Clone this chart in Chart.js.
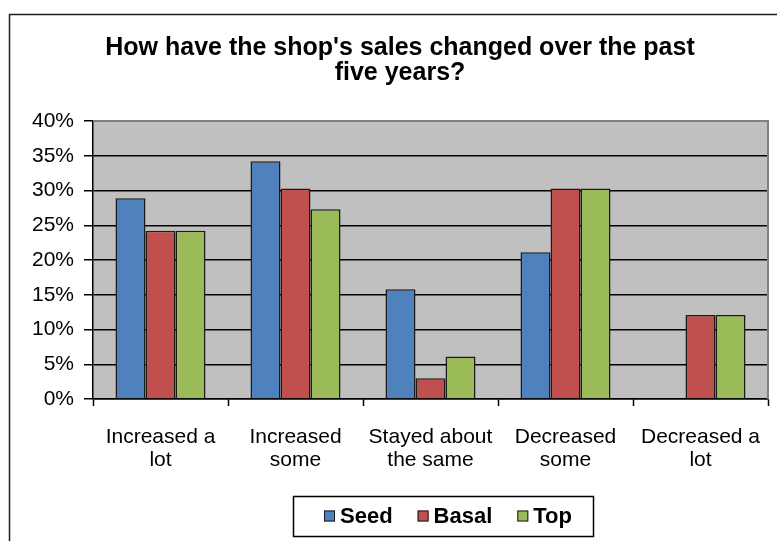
<!DOCTYPE html>
<html>
<head>
<meta charset="utf-8">
<script src="https://cdn.jsdelivr.net/npm/chart.js@4/dist/chart.umd.min.js"></script>
<style>
  html, body { margin: 0; padding: 0; background: #ffffff; }
  #wrap { width: 777px; height: 541px; }
</style>
</head>
<body>
<div id="wrap"><canvas id="c" width="777" height="541"></canvas></div>
<script>
// Survey answers: share of respondents per answer, in percent
const categories = [
  ['Increased a', 'lot'],
  ['Increased', 'some'],
  ['Stayed about', 'the same'],
  ['Decreased', 'some'],
  ['Decreased a', 'lot']
];
const seriesNames = ['Seed', 'Basal', 'Top'];
const seedValues  = [28.9, 34.2, 15.8, 21.1, 0];
const basalValues = [24.2, 30.3, 3.0, 30.3, 12.1];
const topValues   = [24.2, 27.3, 6.1, 30.3, 12.1];
const seriesColors = ['#4F81BD', '#C0504D', '#9BBB59'];
const titleLines = ["How have the shop's sales changed over the past", 'five years?'];

const FONT = "'Liberation Sans', Arial, sans-serif";

// Grey plot background, grey top/right plot border, outer frame and boxed legend
const decorations = {
  id: 'decorations',
  afterLayout(chart) {
    // nudge the title block so its lines are centred where the frame is centred
    if (chart.titleBlock) {
      chart.titleBlock.left += 16;
      chart.titleBlock.right += 16;
    }
  },
  beforeDraw(chart) {
    const ctx = chart.ctx;
    const a = chart.chartArea;
    ctx.save();
    ctx.fillStyle = '#ffffff';
    ctx.fillRect(0, 0, chart.width, chart.height);
    ctx.fillStyle = '#C0C0C0';
    ctx.fillRect(a.left, a.top, a.right - a.left, a.bottom - a.top);
    ctx.restore();
  },
  beforeDatasetsDraw(chart) {
    const ctx = chart.ctx;
    const a = chart.chartArea;
    ctx.save();
    ctx.strokeStyle = '#808080';
    ctx.lineWidth = 2;
    ctx.beginPath();
    ctx.moveTo(a.left, a.top);
    ctx.lineTo(a.right, a.top);
    ctx.lineTo(a.right, a.bottom);
    ctx.stroke();
    ctx.restore();
  },
  afterDraw(chart) {
    const ctx = chart.ctx;
    ctx.save();
    // outer chart frame
    ctx.strokeStyle = '#1f1f1f';
    ctx.lineWidth = 1.5;
    ctx.strokeRect(9.5, 14.5, 900, 700);

    // legend
    const box = { left: 293.5, top: 496.5, right: 593.5, bottom: 536.5 };
    ctx.fillStyle = '#ffffff';
    ctx.fillRect(box.left, box.top, box.right - box.left, box.bottom - box.top);
    ctx.strokeStyle = '#000000';
    ctx.lineWidth = 1.5;
    ctx.strokeRect(box.left, box.top, box.right - box.left, box.bottom - box.top);

    ctx.font = 'bold 22px ' + FONT;
    ctx.textBaseline = 'middle';
    ctx.textAlign = 'left';
    const sq = 11, gapText = 5, gapItem = 25;
    const ds = chart.data.datasets;
    const widths = ds.map(d => sq + gapText + ctx.measureText(d.label).width);
    const total = widths.reduce((s, w) => s + w, 0) + gapItem * (ds.length - 1);
    let x = 448 - total / 2;
    const cy = 516;
    ds.forEach((d, i) => {
      ctx.fillStyle = d.backgroundColor;
      ctx.fillRect(x, cy - sq / 2, sq, sq);
      ctx.strokeStyle = '#1a1a1a';
      ctx.lineWidth = 1;
      ctx.strokeRect(x + 0.5, cy - sq / 2 + 0.5, sq - 1, sq - 1);
      ctx.fillStyle = '#000000';
      ctx.fillText(d.label, x + sq + gapText, cy + 1);
      x += widths[i] + gapItem;
    });
    ctx.restore();
  }
};

const seriesData = [seedValues, basalValues, topValues];

new Chart(document.getElementById('c'), {
  type: 'bar',
  data: {
    labels: categories,
    datasets: seriesNames.map((name, i) => ({
      label: name,
      data: seriesData[i],
      backgroundColor: seriesColors[i],
      borderColor: '#1a1a1a',
      borderWidth: 1.5,
      categoryPercentage: 0.667,
      barPercentage: 1.0
    }))
  },
  options: {
    responsive: false,
    animation: false,
    devicePixelRatio: 1,
    layout: { padding: { top: 0, left: 0, right: 9, bottom: 62 } },
    plugins: {
      legend: { display: false },
      tooltip: { enabled: false },
      title: {
        display: true,
        text: titleLines,
        color: '#000000',
        font: { family: FONT, size: 25, weight: 'bold', lineHeight: 1.0 },
        padding: { top: 36, bottom: 35 }
      }
    },
    scales: {
      x: {
        grid: {
          offset: true,
          drawOnChartArea: false,
          drawTicks: true,
          tickLength: 7,
          tickWidth: 1.5,
          tickColor: '#000000',
          color: '#000000'
        },
        border: { display: true, color: '#000000', width: 1.5 },
        ticks: {
          color: '#000000',
          padding: 20,
          maxRotation: 0,
          autoSkip: false,
          font: { family: FONT, size: 21, lineHeight: 1.1 }
        },
        afterFit(scale) {
          scale.height = 80;
          scale.paddingLeft = 0;
          scale.paddingRight = 0;
        }
      },
      y: {
        min: 0,
        max: 40,
        ticks: {
          stepSize: 5,
          color: '#000000',
          padding: 10,
          font: { family: FONT, size: 21 },
          callback: v => v + '%'
        },
        grid: {
          drawTicks: true,
          tickLength: 9,
          color: ctx => (ctx.tick && ctx.tick.value === 40) ? '#808080' : '#000000',
          lineWidth: 1.5,
          tickColor: '#000000',
          tickWidth: 1.5
        },
        border: { display: true, color: '#000000', width: 1.5 },
        afterFit(scale) { scale.width = 93; }
      }
    }
  },
  plugins: [decorations]
});
</script>
</body>
</html>
